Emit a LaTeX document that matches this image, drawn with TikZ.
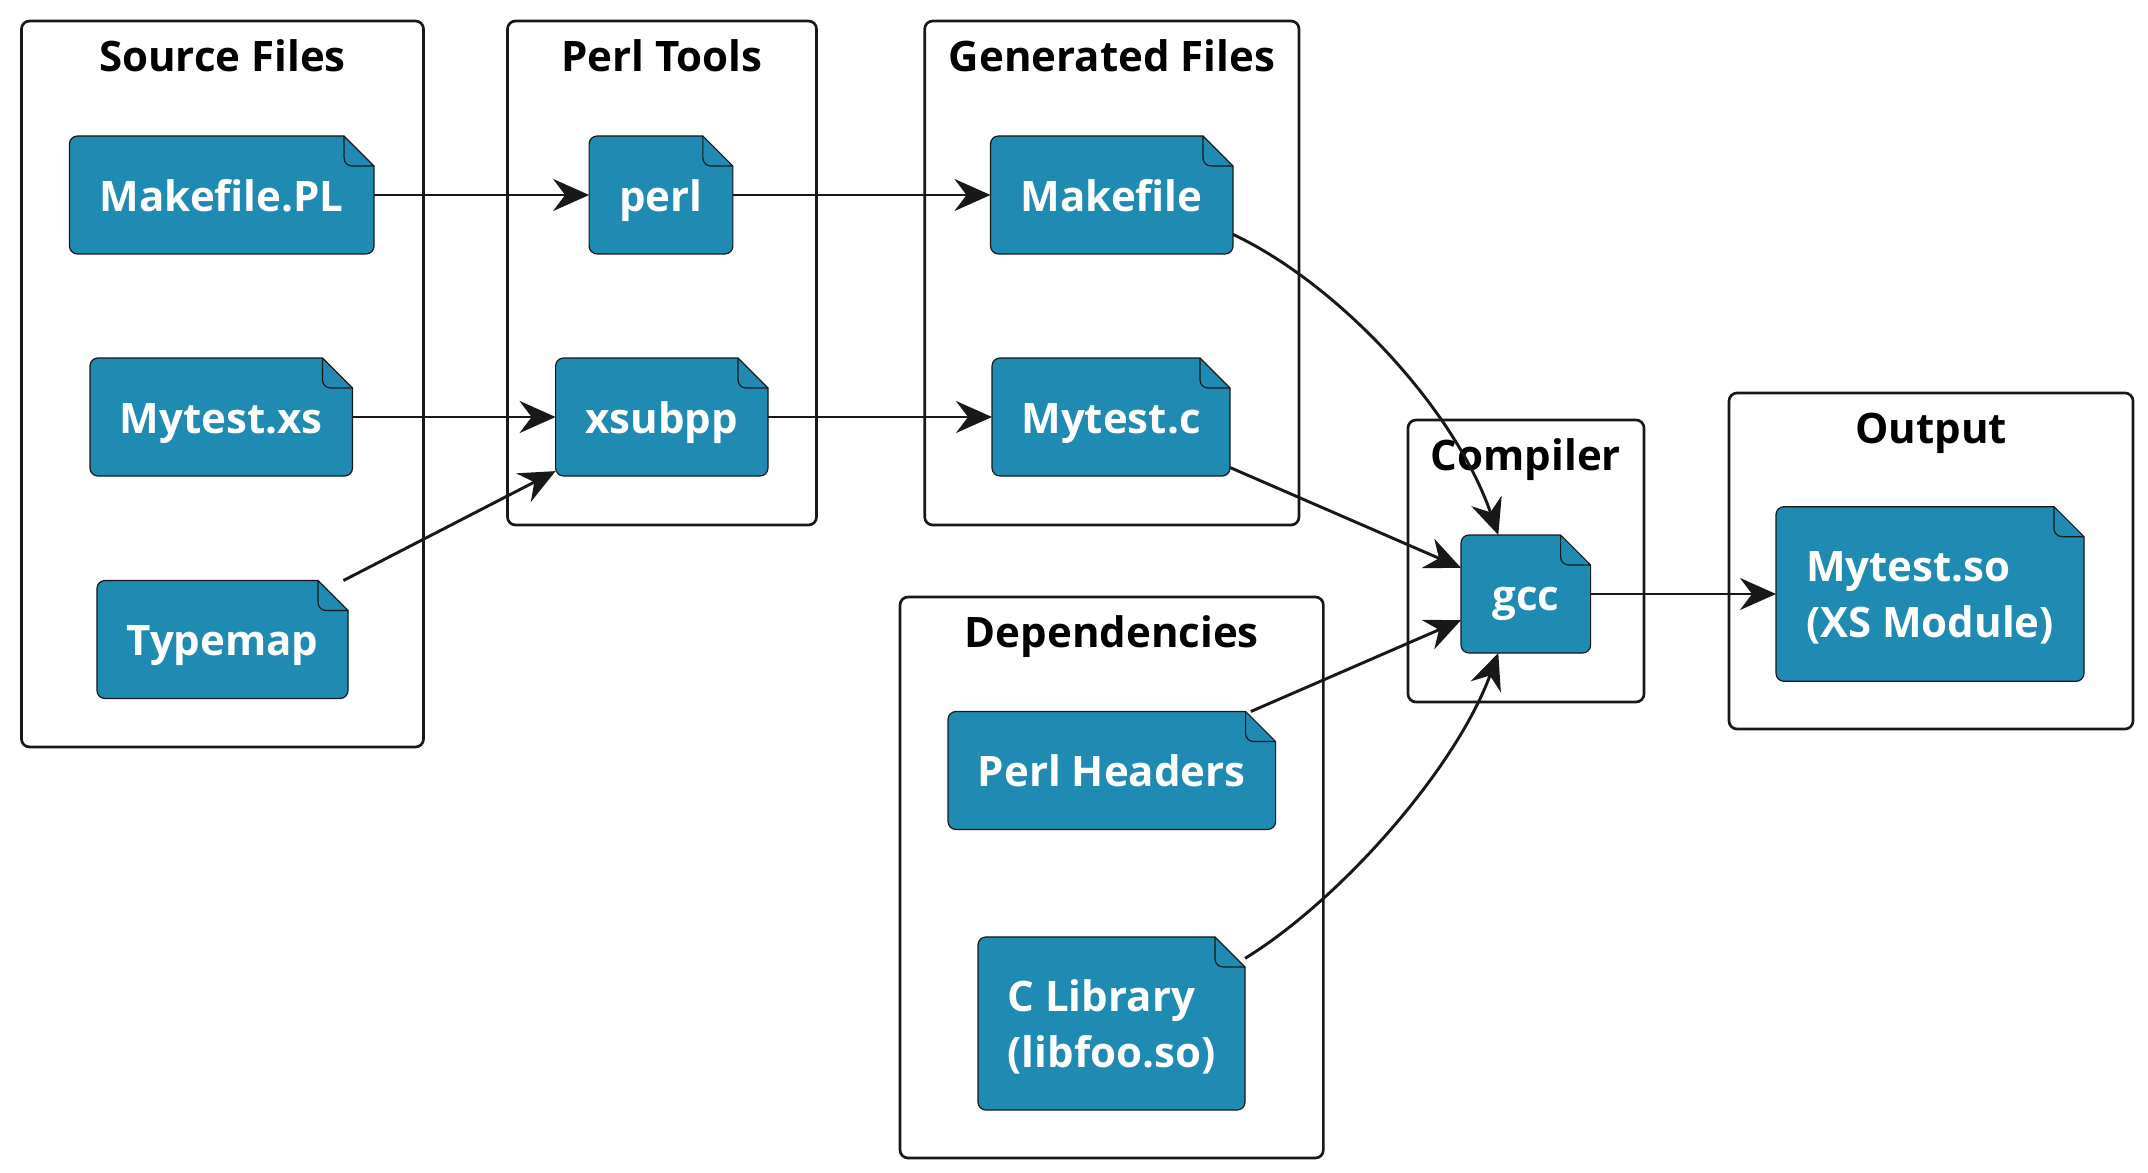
\documentclass[tikz,border=0pt]{standalone}
\usepackage{fontspec}
\setmainfont{Open Sans}
\usepackage{xcolor}
\usepackage{tikz}
\usetikzlibrary{arrows.meta,positioning,calc}

\definecolor{filecol}{HTML}{1F8AB2}
\definecolor{linecol}{HTML}{181818}

% file symbol with a folded corner
\makeatletter
\pgfdeclareshape{filenote}{
  \inheritsavedanchors[from=rectangle]
  \inheritanchorborder[from=rectangle]
  \inheritanchor[from=rectangle]{center}
  \inheritanchor[from=rectangle]{north}
  \inheritanchor[from=rectangle]{south}
  \inheritanchor[from=rectangle]{east}
  \inheritanchor[from=rectangle]{west}
  \inheritanchor[from=rectangle]{north east}
  \inheritanchor[from=rectangle]{south west}
  \backgroundpath{
    \southwest \edef\fxa{\the\pgf@x}\edef\fya{\the\pgf@y}
    \northeast \edef\fxb{\the\pgf@x}\edef\fyb{\the\pgf@y}
    \advance\pgf@x by -22.5pt \edef\fxc{\the\pgf@x}
    \pgf@y=\fyb \advance\pgf@y by -22.5pt \edef\fyc{\the\pgf@y}
    \pgfpathmoveto{\pgfqpoint{\fxb}{\fyc}}
    \pgfsetcornersarced{\pgfqpoint{6pt}{6pt}}
    \pgfpathlineto{\pgfqpoint{\fxb}{\fya}}
    \pgfpathlineto{\pgfqpoint{\fxa}{\fya}}
    \pgfpathlineto{\pgfqpoint{\fxa}{\fyb}}
    \pgfsetcornersarced{\pgfpointorigin}
    \pgfpathlineto{\pgfqpoint{\fxc}{\fyb}}
    \pgfpathlineto{\pgfqpoint{\fxb}{\fyc}}
    \pgfpathclose
  }
  \beforebackgroundpath{
    \southwest \northeast
    \edef\fxb{\the\pgf@x}\edef\fyb{\the\pgf@y}
    \advance\pgf@x by -22.5pt \edef\fxc{\the\pgf@x}
    \pgf@y=\fyb \advance\pgf@y by -22.5pt \edef\fyc{\the\pgf@y}
    \pgfsetcornersarced{\pgfqpoint{6pt}{6pt}}
    \pgfpathmoveto{\pgfqpoint{\fxc}{\fyb}}
    \pgfpathlineto{\pgfqpoint{\fxc}{\fyc}}
    \pgfsetcornersarced{\pgfpointorigin}
    \pgfpathlineto{\pgfqpoint{\fxb}{\fyc}}
    \pgfusepath{stroke}
  }
}
\makeatother

\begin{document}
\begin{tikzpicture}[
  x=0.75pt, y=-0.75pt,
  groupbox/.style={draw=linecol, rounded corners=6pt, line width=2pt,
                   inner sep=0pt, outer sep=0pt},
  grouptitle/.style={font=\fontsize{31.5pt}{42pt}\selectfont\bfseries, text=black,
                     text height=23pt, text depth=7pt, inner sep=0pt, yshift=-30pt},
  filebox/.style={shape=filenote, draw=linecol, fill=filecol, line width=0.9pt,
                  inner sep=0pt, outer sep=0pt, minimum height=88.5pt, align=left,
                  text height=24.5pt, text depth=0pt,
                  text=white, font=\fontsize{31.5pt}{42pt}\selectfont\bfseries},
  twolines/.style={text height=65.5pt},
  conn/.style={draw=linecol, line width=2.2pt},
  >={Stealth[length=27pt, width=24pt, inset=9pt]}
]
  \useasboundingbox (0,0) rectangle (2148,1173);

  % groups
  \node[groupbox, minimum width=301.5pt, minimum height=544.5pt] (srcbox) at (222.5,384) {};
  \node[groupbox, minimum width=231.75pt, minimum height=378pt] (toolbox) at (662,273) {};
  \node[groupbox, minimum width=280.7pt, minimum height=378pt] (genbox) at (1111.85,273) {};
  \node[groupbox, minimum width=317.5pt, minimum height=420.75pt] (depbox) at (1111.7,877.5) {};
  \node[groupbox, minimum width=177pt, minimum height=211.5pt] (compbox) at (1526,561) {};
  \node[groupbox, minimum width=303pt, minimum height=252pt] (outbox) at (1931,561) {};

  \node[grouptitle] (srctitle) at (srcbox.north) {Source Files};
  \node[grouptitle] (tooltitle) at (toolbox.north) {Perl Tools};
  \node[grouptitle] (gentitle) at (genbox.north) {Generated Files};
  \node[grouptitle] (deptitle) at (depbox.north) {Dependencies};
  \node[grouptitle] (comptitle) at (compbox.north) {Compiler};
  \node[grouptitle] (outtitle) at (outbox.north) {Output};

  % files
  \node[filebox, minimum width=228.4pt] (makepl) at (221.75,195) {Makefile.PL};
  \node[filebox, minimum width=196.9pt] (xsfile) at (221.25,417) {Mytest.xs};
  \node[filebox, minimum width=188.3pt] (typemap) at (222.5,639.5) {Typemap};
  \node[filebox, minimum width=107.8pt] (perl) at (661,195) {perl};
  \node[filebox, minimum width=159.3pt] (xsubpp) at (661.8,417) {xsubpp};
  \node[filebox, minimum width=181.9pt] (makefile) at (1111.75,195) {Makefile};
  \node[filebox, minimum width=178.5pt] (cfile) at (1111,417) {Mytest.c};
  \node[filebox, minimum width=245.7pt] (headers) at (1111.8,770.5) {Perl Headers};
  \node[filebox, twolines, minimum width=200.3pt, minimum height=129.8pt] (libfoo) at (1111.5,1023.5)
    {C Library\\(libfoo.so)};
  \node[filebox, minimum width=97.2pt] (gcc) at (1525.8,594) {gcc};
  \node[filebox, twolines, minimum width=231pt, minimum height=131pt] (module) at (1930,594)
    {Mytest.so\\(XS Module)};

  % connectors
  \draw[conn, ->] (makepl.east) -- (perl.west);
  \draw[conn, ->] (xsfile.east) -- (xsubpp.west);
  \draw[conn, ->] (typemap.26.5) -- (xsubpp.207);
  \draw[conn, ->] (perl.east) -- (makefile.west);
  \draw[conn, ->] (xsubpp.east) -- (cfile.west);
  \draw[conn, ->] (makefile.-18) .. controls (1340,285) and (1455,410) .. (gcc.115);
  \draw[conn, ->] (cfile.-23) -- (gcc.158);
  \draw[conn, ->] (headers.23) -- (gcc.202);
  \draw[conn, ->] (libfoo.26) .. controls (1340,900) and (1455,770) .. (gcc.-115);
  \draw[conn, ->] (gcc.east) -- (module.west);
\end{tikzpicture}
\end{document}
